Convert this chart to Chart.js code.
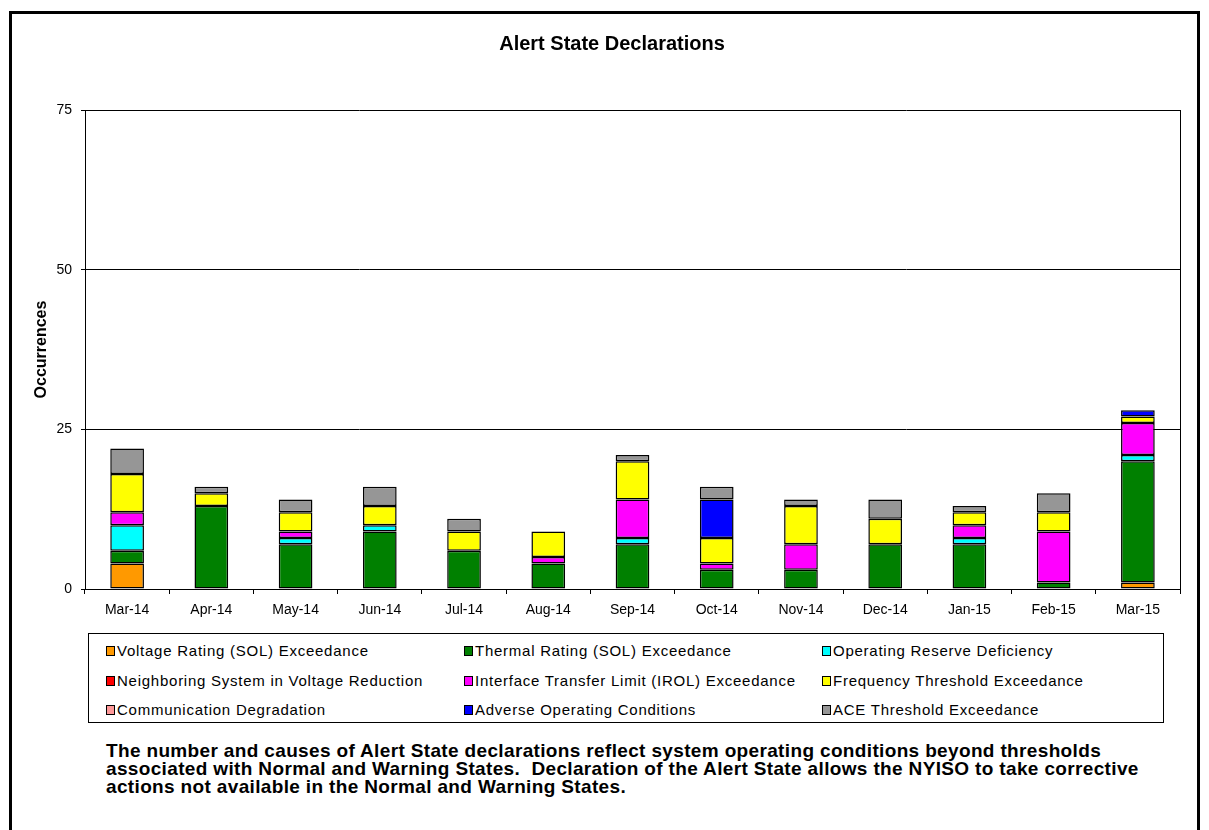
<!DOCTYPE html>
<html>
<head>
<meta charset="utf-8">
<script src="https://cdn.jsdelivr.net/npm/chart.js@4/dist/chart.umd.min.js"></script>
<style>
  body { margin: 0; background: #fff; font-family: Arial, "Liberation Sans", sans-serif; }
  #frame { position: absolute; left: 9px; top: 11px; width: 1191px; height: 830px; border: 3px solid #000; box-sizing: border-box; }
  #chart { position: absolute; left: 0; top: 0; }
  #legend { position: absolute; left: 88px; top: 633px; width: 1076px; height: 90px; border: 1px solid #000; box-sizing: border-box; }
  .item { position: absolute; font-size: 15px; letter-spacing: 0.75px; color: #000; white-space: nowrap; line-height: 16px; }
  .sw { display: inline-block; width: 7px; height: 8px; border: 1px solid #000; margin-right: 2px; vertical-align: 0px; }
  #note { position: absolute; left: 106px; top: 742px; font-weight: bold; font-size: 19px; letter-spacing: 0.35px; line-height: 18px; color: #000; white-space: nowrap; }
</style>
</head>
<body>
<div id="frame"></div>
<canvas id="chart" width="1209" height="625"></canvas>
<div id="legend"></div>
<div id="note">The number and causes of Alert State declarations reflect system operating conditions beyond thresholds<br>associated with Normal and Warning States.&nbsp; Declaration of the Alert State allows the NYISO to take corrective<br>actions not available in the Normal and Warning States.</div>
<script>
const chartTitle = 'Alert State Declarations';
const months = ['Mar-14', 'Apr-14', 'May-14', 'Jun-14', 'Jul-14', 'Aug-14', 'Sep-14', 'Oct-14', 'Nov-14', 'Dec-14', 'Jan-15', 'Feb-15', 'Mar-15'];
const yTicks = [0, 25, 50, 75];

const voltageRating   = [4, 0, 0, 0, 0, 0, 0, 0, 0, 0, 0, 0, 1];
const thermalRating   = [2, 13, 7, 9, 6, 4, 7, 3, 3, 7, 7, 1, 19];
const operatingReserve = [4, 0, 1, 1, 0, 0, 1, 0, 0, 0, 1, 0, 1];
const neighboringSystem = [0, 0, 0, 0, 0, 0, 0, 0, 0, 0, 0, 0, 0];
const interfaceTransfer = [2, 0, 1, 0, 0, 1, 6, 1, 4, 0, 2, 8, 5];
const frequencyThreshold = [6, 2, 3, 3, 3, 4, 6, 4, 6, 4, 2, 3, 1];
const communicationDegradation = [0, 0, 0, 0, 0, 0, 0, 0, 0, 0, 0, 0, 0];
const adverseConditions = [0, 0, 0, 0, 0, 0, 0, 6, 0, 0, 0, 0, 1];
const aceThreshold    = [4, 1, 2, 3, 2, 0, 1, 2, 1, 3, 1, 3, 0];

const series = [
  { label: 'Voltage Rating (SOL) Exceedance', data: voltageRating, color: '#FF9900' },
  { label: 'Thermal Rating (SOL) Exceedance', data: thermalRating, color: '#008000' },
  { label: 'Operating Reserve Deficiency', data: operatingReserve, color: '#00FFFF' },
  { label: 'Neighboring System in Voltage Reduction', data: neighboringSystem, color: '#FF0000' },
  { label: 'Interface Transfer Limit (IROL)  Exceedance', data: interfaceTransfer, color: '#FF00FF' },
  { label: 'Frequency Threshold Exceedance', data: frequencyThreshold, color: '#FFFF00' },
  { label: 'Communication Degradation', data: communicationDegradation, color: '#FF9999' },
  { label: 'Adverse Operating Conditions', data: adverseConditions, color: '#0000FF' },
  { label: 'ACE Threshold Exceedance', data: aceThreshold, color: '#969696' }
];

// right-hand edge of the plot area + title centred like the original (a bit right of the canvas middle)
const plotExtras = {
  id: 'plotExtras',
  afterDraw(chart) {
    const { ctx, chartArea } = chart;
    ctx.save();
    ctx.strokeStyle = '#000';
    ctx.lineWidth = 1;
    ctx.beginPath();
    ctx.moveTo(Math.round(chartArea.right) + 0.5, chartArea.top);
    ctx.lineTo(Math.round(chartArea.right) + 0.5, chartArea.bottom + 5);
    ctx.stroke();

    ctx.fillStyle = '#000';
    ctx.font = 'bold 20px Arial';
    ctx.textAlign = 'center';
    ctx.textBaseline = 'middle';
    ctx.fillText(chartTitle, 612, 44);
    ctx.restore();
  }
};

new Chart(document.getElementById('chart'), {
  type: 'bar',
  data: {
    labels: months,
    datasets: series.map(s => ({
      label: s.label,
      data: s.data.map(v => v === 0 ? null : v),
      backgroundColor: s.color,
      borderColor: '#000',
      borderWidth: 1.5,
      borderSkipped: false,
      barPercentage: 0.4,
      categoryPercentage: 1
    }))
  },
  options: {
    responsive: false,
    animation: false,
    layout: { padding: { left: 0, right: 29, top: 110, bottom: 0 } },
    plugins: {
      legend: { display: false },
      tooltip: { enabled: false },
      title: { display: false }
    },
    scales: {
      x: {
        stacked: true,
        offset: true,
        grid: { display: true, drawOnChartArea: false, color: '#000', tickLength: 5, offset: true },
        border: { color: '#000' },
        ticks: { color: '#000', font: { family: 'Arial', size: 14 }, padding: 8, maxRotation: 0 },
        afterFit: s => { s.height = 36; }
      },
      y: {
        stacked: true,
        min: yTicks[0],
        max: yTicks[yTicks.length - 1],
        afterBuildTicks: s => { s.ticks = yTicks.map(v => ({ value: v })); },
        grid: { color: '#000', tickLength: 4 },
        border: { color: '#000' },
        ticks: { color: '#000', font: { family: 'Arial', size: 14 }, padding: 9 },
        title: { display: true, text: 'Occurrences', color: '#000', font: { family: 'Arial', size: 16, weight: 'bold' }, padding: { top: 32, bottom: 0 } },
        afterFit: s => { s.width = 85; }
      }
    }
  },
  plugins: [plotExtras]
});

// legend box, 3 columns like the original
const legendEl = document.getElementById('legend');
const colX = [17, 375, 733];
const rowY = [9, 39, 68];
series.forEach((s, i) => {
  const div = document.createElement('div');
  div.className = 'item';
  div.style.left = colX[i % 3] + 'px';
  div.style.top = rowY[Math.floor(i / 3)] + 'px';
  div.innerHTML = `<span class="sw" style="background:${s.color}"></span>${s.label}`;
  legendEl.appendChild(div);
});
</script>
</body>
</html>
